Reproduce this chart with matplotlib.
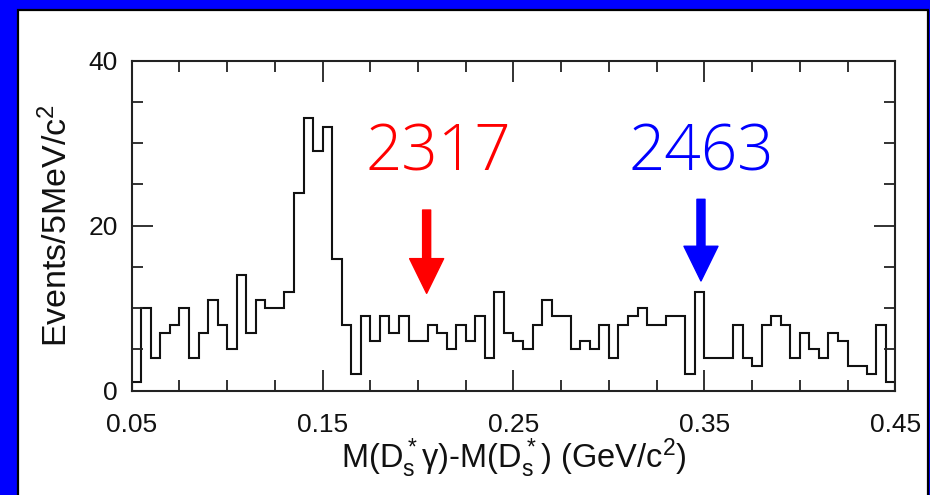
import matplotlib
matplotlib.use("Agg")
import matplotlib.pyplot as plt
import numpy as np
from matplotlib.patches import Rectangle
from matplotlib.ticker import MultipleLocator, FixedLocator

plt.rcParams['font.family'] = ['Liberation Sans', 'DejaVu Sans']
plt.rcParams['mathtext.default'] = 'regular'

# ---- data: events per 5 MeV bin, 0.05 .. 0.45 GeV ----
x_lo, x_hi, bin_w = 0.05, 0.45, 0.005
counts = [1, 10, 4, 7, 8, 10, 4, 7, 11, 8,
          5, 14, 7, 11, 10, 10, 12, 24, 33, 29,
          32, 16, 8, 2, 9, 6, 9, 7, 9, 6,
          6, 8, 7, 5, 8, 6, 9, 4, 12, 7,
          6, 5, 8, 11, 9, 9, 5, 6, 5, 8,
          4, 8, 9, 10, 8, 8, 9, 9, 2, 12,
          4, 4, 4, 8, 4, 3, 8, 9, 8, 4,
          7, 5, 4, 7, 6, 3, 3, 2, 8, 1]
x_ticks = [0.05, 0.15, 0.25, 0.35, 0.45]
y_ticks = [0, 20, 40]

# arrows: (label, colour, arrow x, label x, arrow start y, arrow tip y)
markers = [("2317", "#ff0000", 0.2045, 0.2105, 21.9, 11.8),
           ("2463", "#0000ff", 0.3482, 0.3482, 23.2, 13.3)]

fig = plt.figure(figsize=(9.3, 4.95), dpi=100, facecolor="#0000ff")
fig.patches.append(Rectangle((17.5 / 930, -0.02), (928 - 17.5) / 930, 485.5 / 495 + 0.02,
                             transform=fig.transFigure, facecolor="white",
                             edgecolor="black", linewidth=1.6, zorder=-5))

ax = fig.add_axes([0.1416, 0.2107, 0.8211, 0.6667])
ax.set_zorder(2)
ax.set_facecolor("white")

edges = np.linspace(x_lo, x_hi, len(counts) + 1)
ax.stairs(counts, edges, color="#111111", linewidth=1.5, baseline=0)

ax.set_xlim(x_lo, x_hi)
ax.set_ylim(0, 40)
ax.xaxis.set_major_locator(FixedLocator(x_ticks))
ax.xaxis.set_minor_locator(MultipleLocator(0.025))
ax.yaxis.set_major_locator(FixedLocator(y_ticks))
ax.yaxis.set_minor_locator(MultipleLocator(5))
ax.set_xticklabels([f"{v:.2f}" for v in x_ticks])
ax.set_yticklabels([str(v) for v in y_ticks])

for s in ax.spines.values():
    s.set_color("#222222")
    s.set_linewidth(1.5)
ax.tick_params(which="both", direction="in", top=True, right=True,
               color="#222222", width=1.3, labelsize=19, labelcolor="#111111")
ax.tick_params(which="major", length=15)
ax.tick_params(which="minor", length=8)
ax.tick_params(axis="x", which="major", pad=16)
ax.tick_params(axis="y", which="major", pad=10)

ax.set_xlabel(r"M(D$_s^*$γ)-M(D$_s^*$) (GeV/c$^2$)", fontsize=23.5, labelpad=0, color="#111111")
ax.set_ylabel(r"Events/5MeV/c$^2$", fontsize=24.5, labelpad=10, color="#111111")

for label, col, xa, xt, y0, y1 in markers:
    ax.text(xt, 28.7, label, color=col, fontsize=46, family=["Open Sans", "DejaVu Sans"],
            fontweight=300, ha="center", va="center")
    ax.annotate("", xy=(xa, y1), xytext=(xa, y0),
                arrowprops=dict(arrowstyle="simple,head_length=2.5,head_width=2.45,tail_width=0.58",
                                mutation_scale=10, color=col, shrinkA=0, shrinkB=0))

fig.savefig("out.png", dpi=100, facecolor=fig.get_facecolor())
